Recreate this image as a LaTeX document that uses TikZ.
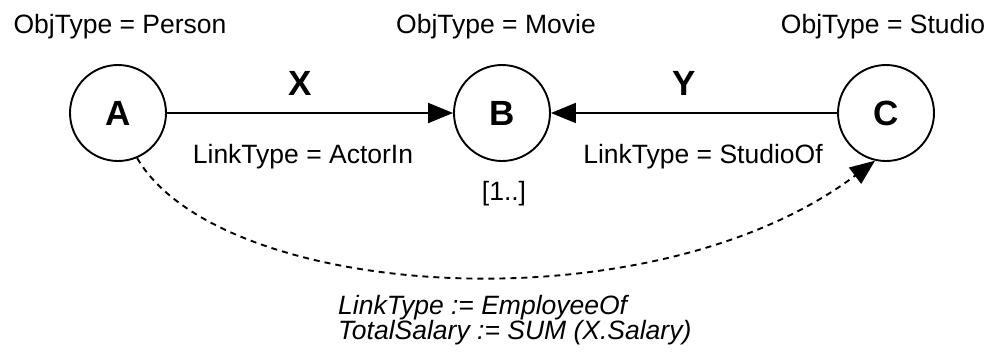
\documentclass[tikz,border=0pt]{standalone}
\usepackage{fontspec}
\setmainfont{Liberation Sans}
\usepackage{tikz}
\usetikzlibrary{arrows.meta}

\begin{document}
\begin{tikzpicture}[
    x=1pt, y=-1pt,
    >={Triangle[length=25pt,width=20pt]},
    obj/.style={draw, circle, line width=1.9pt, minimum size=96pt, inner sep=0pt,
                font=\fontsize{35}{40}\selectfont\bfseries},
    lbl/.style={inner sep=0pt, anchor=base, font=\fontsize{26.5}{25}\selectfont},
    edgename/.style={inner sep=0pt, anchor=base, font=\fontsize{35}{40}\selectfont\bfseries},
    link/.style={line width=1.9pt},
  ]
    \useasboundingbox (0,0) rectangle (992,356);

    \node[obj] (A) at (118,113) {A};
    \node[obj] (B) at (502,113) {B};
    \node[obj] (C) at (886,113) {C};

    \node[lbl] (tA) at (120,33) {ObjType = Person};
    \node[lbl] (tB) at (496,33) {ObjType = Movie};
    \node[lbl] (tC) at (883,33) {ObjType = Studio};

    \node[edgename] (X) at (300,95) {X};
    \node[edgename] (Y) at (684,95) {Y};
    \node[lbl] (lX) at (303,163) {LinkType = ActorIn};
    \node[lbl] (lY) at (703,163) {LinkType = StudioOf};
    \node[lbl] (card) at (504,200) {[1..]};

    \draw[link,->] (A) -- (B);
    \draw[link,->] (C) -- (B);

    % derived link, runs under the row of objects
    \draw[link, dash pattern=on 6pt off 5pt, ->] (A.-67)
      .. controls (220,300) and (650,330) .. (C.-103);
    \node[lbl, anchor=north west, align=left, font=\fontsize{26.5}{25}\selectfont\itshape]
      (agg) at (338,295) {LinkType := EmployeeOf\\TotalSalary := SUM (X.Salary)};
  \end{tikzpicture}
\end{document}
